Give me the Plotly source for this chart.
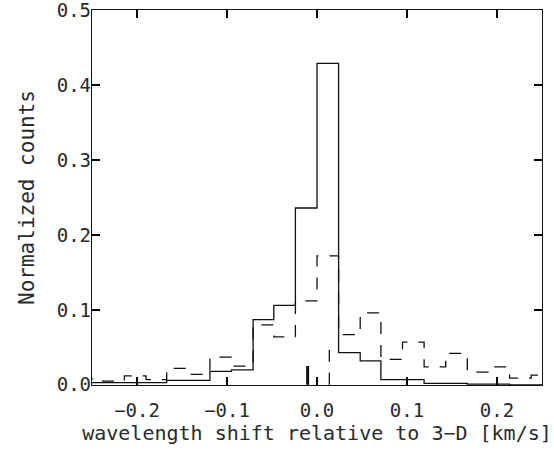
import plotly.graph_objects as go

# bin edges (km/s)
bin_edges = [-0.262, -0.238, -0.214, -0.190, -0.167, -0.143, -0.119, -0.095,
             -0.071, -0.048, -0.024, 0.0, 0.024, 0.048, 0.071, 0.095, 0.119,
             0.143, 0.167, 0.190, 0.214, 0.238, 0.262]

solid_counts = [0.003, 0.003, 0.003, 0.003, 0.006, 0.006, 0.018, 0.020, 0.087,
                0.106, 0.236, 0.429, 0.043, 0.032, 0.007, 0.007, 0.002, 0.002,
                0.001, 0.001, 0.0, 0.0]

dashed_counts = [0.008, 0.005, 0.012, 0.007, 0.022, 0.014, 0.037, 0.025, 0.080,
                 0.064, 0.112, 0.172, 0.067, 0.096, 0.034, 0.057, 0.024, 0.042,
                 0.017, 0.024, 0.009, 0.013]

solid_mean_x = [-0.0104, -0.0104]
solid_mean_y = [0.0, 0.025]
dashed_mean_x = [0.0137, 0.0137]
dashed_mean_y = [0.0, 0.051]

X_RANGE = [-0.25, 0.25]
Y_RANGE = [-0.0003, 0.5003]
MAJOR_STEP = 0.1
MINOR_STEP = 0.01

LINE = "black"
TXT = "#2a2a2a"
FONT = "DejaVu Sans Mono"

fig = go.Figure()
fig.add_trace(go.Scatter(x=bin_edges, y=solid_counts + [solid_counts[-1]],
                         mode="lines", line=dict(shape="hv", color="#111111", width=1.3),
                         hoverinfo="skip"))
fig.add_trace(go.Scatter(x=bin_edges, y=dashed_counts + [dashed_counts[-1]],
                         mode="lines", line=dict(shape="hv", color="#111111", width=1.3,
                                                 dash="12px,11px"),
                         hoverinfo="skip"))
fig.add_trace(go.Scatter(x=solid_mean_x, y=solid_mean_y, mode="lines",
                         line=dict(color="#111111", width=3), hoverinfo="skip"))
fig.add_trace(go.Scatter(x=dashed_mean_x, y=dashed_mean_y, mode="lines",
                         line=dict(color="#111111", width=1.3, dash="12px,11px"),
                         hoverinfo="skip"))

def tick_axis(rng, overlay, side, position, step, length, width):
    # overlay axis that only carries ticks; placed on the opposite edge with
    # outward ticks so they point into the plot area (inside ticks)
    return dict(
        range=rng, overlaying=overlay, side=side, anchor="free", position=position,
        showline=False, showgrid=False, zeroline=False, showticklabels=False,
        ticks="outside", ticklen=length, tickwidth=width, tickcolor=LINE,
        tickmode="linear", tick0=0, dtick=step,
    )

fig.update_layout(
    template="simple_white",
    width=554, height=452,
    margin=dict(l=92, r=12, t=10, b=67, autoexpand=False),
    paper_bgcolor="white", plot_bgcolor="white",
    showlegend=False,
    xaxis=dict(range=X_RANGE, side="bottom", showline=True, mirror="allticks",
               linecolor="#111111", linewidth=1.3, ticks="inside", ticklen=8,
               tickwidth=2, tickcolor=LINE, showgrid=False,
               zeroline=False, tickmode="linear", tick0=0, dtick=MAJOR_STEP,
               tickformat=".1f", ticklabelstandoff=8,
               tickfont=dict(family=FONT, size=19, color=TXT),
               title=dict(text="wavelength shift relative to 3\u2212D [km/s]",
                          font=dict(family=FONT, size=20, color=TXT), standoff=2)),
    yaxis=dict(range=Y_RANGE, side="left", showline=True, mirror="allticks",
               linecolor="#111111", linewidth=1.3, ticks="inside", ticklen=8,
               tickwidth=2, tickcolor=LINE, showgrid=False,
               zeroline=False, tickmode="linear", tick0=0, dtick=MAJOR_STEP,
               tickformat=".1f", ticklabelstandoff=-4, ticklabeloverflow="allow",
               tickfont=dict(family=FONT, size=19, color=TXT),
               title=dict(text="Normalized counts",
                          font=dict(family=FONT, size=21, color=TXT), standoff=16)),
    xaxis2=tick_axis(X_RANGE, "x", "top", 0, MAJOR_STEP, 8, 2),
    xaxis3=tick_axis(X_RANGE, "x", "top", 0, MINOR_STEP, 4, 1),
    xaxis4=tick_axis(X_RANGE, "x", "bottom", 1, MINOR_STEP, 4, 1),
    yaxis2=tick_axis(Y_RANGE, "y", "right", 0, MAJOR_STEP, 8, 2),
    yaxis3=tick_axis(Y_RANGE, "y", "right", 0, MINOR_STEP, 4, 1),
    yaxis4=tick_axis(Y_RANGE, "y", "left", 1, MINOR_STEP, 4, 1),
)

fig.write_html("out.html")
